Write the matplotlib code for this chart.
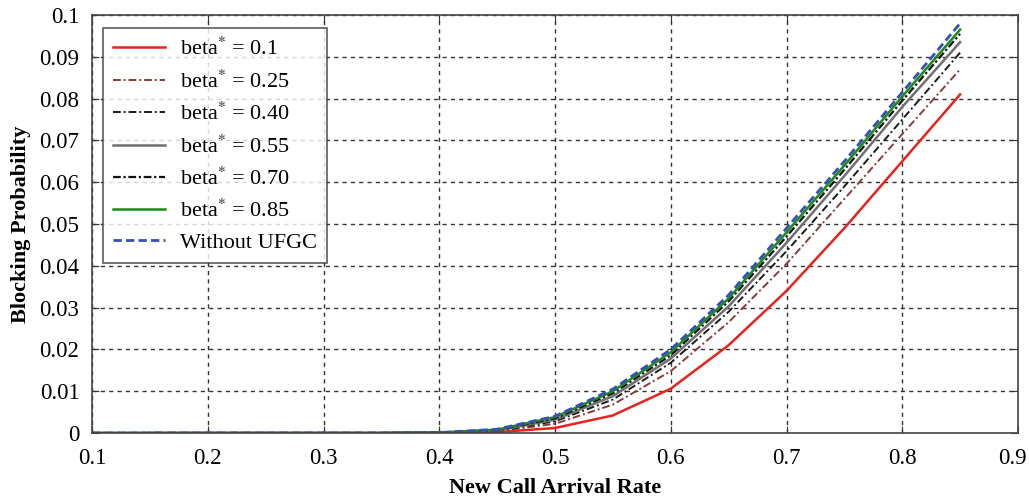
import numpy as np
import matplotlib
matplotlib.use("Agg")
import matplotlib.pyplot as plt
import matplotlib.transforms as mtransforms

plt.rcParams['font.family'] = ['Liberation Serif', 'DejaVu Serif']
plt.rcParams['mathtext.fontset'] = 'stix'

x = [0.1, 0.15, 0.2, 0.25, 0.3, 0.35, 0.4, 0.45, 0.5, 0.55, 0.6, 0.65, 0.7, 0.75, 0.8, 0.85]

beta_010 = [np.nan, 0, 0, 0, 0, 0, 0, 0.0002, 0.0012, 0.0042, 0.0106, 0.0210, 0.0340, 0.0490, 0.0650, 0.0810]
beta_025 = [0, 0, 0, 0, 0, 0, 0.0001, 0.0004, 0.0022, 0.0068, 0.0148, 0.0265, 0.0405, 0.0560, 0.0715, 0.0870]
beta_040 = [0, 0, 0, 0, 0, 0, 0.0001, 0.0005, 0.0028, 0.0080, 0.0168, 0.0290, 0.0435, 0.0590, 0.0750, 0.0910]
beta_055 = [0, 0, 0, 0, 0, 0, 0.0001, 0.0006, 0.0032, 0.0088, 0.0178, 0.0303, 0.0455, 0.0615, 0.0780, 0.0935]
beta_070 = [0, 0, 0, 0, 0, 0, 0.0001, 0.0007, 0.0035, 0.0095, 0.0186, 0.0315, 0.0470, 0.0630, 0.0795, 0.0955]
beta_085 = [0, 0, 0, 0, 0, 0, 0.0001, 0.0008, 0.0038, 0.0100, 0.0193, 0.0322, 0.0480, 0.0640, 0.0805, 0.0965]
without  = [0, 0, 0, 0, 0, 0, 0.0001, 0.0009, 0.0040, 0.0105, 0.0200, 0.0330, 0.0490, 0.0650, 0.0815, 0.0980]

labels = [r'beta$^{*}$ = 0.1', r'beta$^{*}$ = 0.25', r'beta$^{*}$ = 0.40',
          r'beta$^{*}$ = 0.55', r'beta$^{*}$ = 0.70', r'beta$^{*}$ = 0.85', 'Without UFGC']

fig = plt.figure(figsize=(10.29, 4.99), dpi=100)
ax = fig.add_axes([92/1029, 1 - 433/499, (1018 - 92)/1029, (433 - 15)/499])

ax.plot(x, beta_010, color='#e8221c', lw=1.8, ls='-', label=labels[0])
ax.plot(x, beta_025, color='#8a3a3a', lw=1.4, ls=(0, (4, 1.5, 1, 1.5)), label=labels[1])
ax.plot(x, beta_040, color='#1a1a1a', lw=1.4, ls=(0, (4, 1.5, 1, 1.5)), label=labels[2])
ax.plot(x, beta_055, color='#707070', lw=1.8, ls='-', label=labels[3])
ax.plot(x, beta_070, color='#111111', lw=1.6, ls=(0, (3.5, 1.2, 1, 1.2)), label=labels[4])
ax.plot(x, beta_085, color='#1a8a1a', lw=1.8, ls='-', label=labels[5])
ax.plot(x, without, color='#3450b8', lw=2.0, ls=(0, (3, 1.5)), label=labels[6])

ax.set_xlim(0.1, 0.9)
ax.set_ylim(0, 0.1)
ax.set_xticks(np.arange(0.1, 0.91, 0.1))
ax.set_xticklabels(['0.1', '0.2', '0.3', '0.4', '0.5', '0.6', '0.7', '0.8', '0.9'])
ax.set_yticks(np.arange(0, 0.101, 0.01))
ax.set_yticklabels(['0', '0.01', '0.02', '0.03', '0.04', '0.05', '0.06', '0.07', '0.08', '0.09', '0.1'])

ax.grid(True, color='#333333', ls=(0, (3, 3)), lw=1.0)
ax.tick_params(direction='in', top=True, right=True, labelsize=16.5, length=5, color='#333333')
ax.tick_params(axis='y', pad=9)
ax.tick_params(axis='x', pad=11)
for s in ax.spines.values():
    s.set_color('#444444')
    s.set_linewidth(1.2)

# keep the last x tick label inside the figure
last = ax.get_xticklabels()[-1]
last.set_transform(last.get_transform() + mtransforms.ScaledTranslation(-6/100, 0, fig.dpi_scale_trans))

ax.set_xlabel('New Call Arrival Rate', fontsize=16, fontweight='bold', labelpad=6)
ax.set_ylabel('Blocking Probability', fontsize=16, fontweight='bold', labelpad=6)

leg = ax.legend(loc='upper left', bbox_to_anchor=(0.0115, 0.969), fontsize=16, frameon=True,
                fancybox=False, edgecolor='#333333', handlelength=2.35, labelspacing=0.46,
                borderpad=0.45, handletextpad=0.7, borderaxespad=0)
leg.get_frame().set_linewidth(1.2)

fig.savefig('out.png', dpi=100)
